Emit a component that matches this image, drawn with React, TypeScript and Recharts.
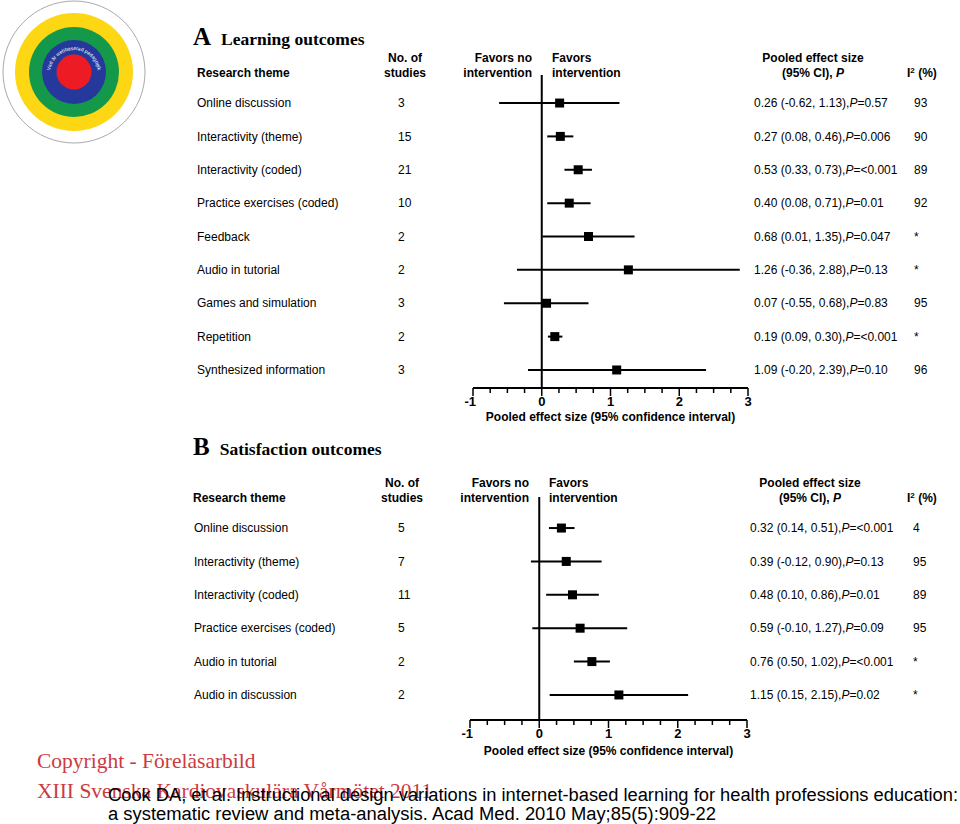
import React from 'react';
import { ScatterChart, Scatter, XAxis, YAxis, ErrorBar, ReferenceLine } from 'recharts';

// Panel A: learning outcomes
const learningThemes = [
  'Online discussion',
  'Interactivity (theme)',
  'Interactivity (coded)',
  'Practice exercises (coded)',
  'Feedback',
  'Audio in tutorial',
  'Games and simulation',
  'Repetition',
  'Synthesized information',
];
const learningStudies = [3, 15, 21, 10, 2, 2, 3, 2, 3];
const learningEffect = [0.26, 0.27, 0.53, 0.4, 0.68, 1.26, 0.07, 0.19, 1.09];
const learningLow = [-0.62, 0.08, 0.33, 0.08, 0.01, -0.36, -0.55, 0.09, -0.2];
const learningHigh = [1.13, 0.46, 0.73, 0.71, 1.35, 2.88, 0.68, 0.3, 2.39];
const learningP = ['0.57', '0.006', '<0.001', '0.01', '0.047', '0.13', '0.83', '<0.001', '0.10'];
const learningI2 = ['93', '90', '89', '92', '*', '*', '95', '*', '96'];

// Panel B: satisfaction outcomes
const satisfactionThemes = [
  'Online discussion',
  'Interactivity (theme)',
  'Interactivity (coded)',
  'Practice exercises (coded)',
  'Audio in tutorial',
  'Audio in discussion',
];
const satisfactionStudies = [5, 7, 11, 5, 2, 2];
const satisfactionEffect = [0.32, 0.39, 0.48, 0.59, 0.76, 1.15];
const satisfactionLow = [0.14, -0.12, 0.1, -0.1, 0.5, 0.15];
const satisfactionHigh = [0.51, 0.9, 0.86, 1.27, 1.02, 2.15];
const satisfactionP = ['<0.001', '0.13', '0.01', '0.09', '<0.001', '0.02'];
const satisfactionI2 = ['4', '95', '89', '95', '*', '*'];

// x axis ticks (minor every 0.25, labels on integers)
const effectTicks = [-1, -0.75, -0.5, -0.25, 0, 0.25, 0.5, 0.75, 1, 1.25, 1.5, 1.75, 2, 2.25, 2.5, 2.75, 3];

const SANS = '"Liberation Sans", Arial, sans-serif';
const SERIF = '"Liberation Serif", "Times New Roman", serif';

function buildRows(themes, studies, est, lo, hi, p, i2) {
  return themes.map((theme, i) => ({
    row: i,
    theme,
    studies: studies[i],
    est: est[i],
    low: lo[i],
    high: hi[i],
    err: [est[i] - lo[i], hi[i] - est[i]],
    p: p[i],
    i2: i2[i],
  }));
}

const learningRows = buildRows(learningThemes, learningStudies, learningEffect, learningLow, learningHigh, learningP, learningI2);
const satisfactionRows = buildRows(satisfactionThemes, satisfactionStudies, satisfactionEffect, satisfactionLow, satisfactionHigh, satisfactionP, satisfactionI2);

const fmt = (n: number) => n.toFixed(2);

const SquareMark = (props: any) => {
  const { cx, cy } = props;
  if (cx == null || cy == null) return null;
  return <rect x={cx - 4.5} y={cy - 4.5} width={9} height={9} fill="#000" />;
};

const EffectTick = (props: any) => {
  const { x, y, payload } = props;
  const v = payload.value;
  const major = Number.isInteger(v);
  return (
    <g>
      <line x1={x} x2={x} y1={y} y2={y + (major ? 8 : 5)} stroke="#000" strokeWidth={1.5} />
      {major && (
        <text x={v < 0 ? x + 3 : x} y={y + 18} textAnchor={v < 0 ? 'end' : 'middle'} fontFamily={SANS} fontSize={13} fontWeight="bold" fill="#000">
          {v}
        </text>
      )}
    </g>
  );
};

function ForestPanel({ rows, height, margin, axisWidth, domain, cols, labelOffset, axisHeight }) {
  const RowTick = (props: any) => {
    const { y, payload } = props;
    const r = rows[payload.value];
    if (!r) return null;
    return (
      <g fontFamily={SANS} fontSize={12} fill="#000">
        <text x={cols.theme} y={y} dy="0.35em">{r.theme}</text>
        <text x={cols.studies} y={y} dy="0.35em">{r.studies}</text>
        <text x={cols.effect} y={y} dy="0.35em">
          {`${fmt(r.est)} (${fmt(r.low)}, ${fmt(r.high)}),`}
          <tspan fontStyle="italic">P</tspan>
          {`=${r.p}`}
        </text>
        <text x={cols.i2} y={y} dy="0.35em">{r.i2}</text>
      </g>
    );
  };

  return (
    <ScatterChart width={960} height={height} margin={margin}>
      <XAxis
        type="number"
        dataKey="est"
        domain={[-1, 3]}
        ticks={effectTicks}
        interval={0}
        height={axisHeight}
        tickSize={0}
        tickMargin={0}
        tickLine={false}
        tick={<EffectTick />}
        axisLine={{ stroke: '#000', strokeWidth: 2 }}
        label={{
          value: 'Pooled effect size (95% confidence interval)',
          position: 'insideBottom',
          offset: labelOffset,
          style: { fontFamily: SANS, fontSize: 12, fontWeight: 'bold', fill: '#000' },
        }}
      />
      <YAxis
        type="number"
        dataKey="row"
        reversed
        domain={domain}
        ticks={rows.map((r) => r.row)}
        interval={0}
        width={axisWidth}
        axisLine={false}
        tickLine={false}
        tickSize={0}
        tick={<RowTick />}
      />
      <ReferenceLine x={0} stroke="#000" strokeWidth={2} />
      <Scatter data={rows} shape={<SquareMark />} isAnimationActive={false}>
        <ErrorBar dataKey="err" direction="x" width={0} stroke="#000" strokeWidth={2} isAnimationActive={false} />
      </Scatter>
    </ScatterChart>
  );
}

function Headers({ top, head, title, letter, left, studiesX, favorsX, pooledX, i2X }) {
  const base = { fontFamily: SANS, fontSize: 12, fontWeight: 'bold' as const, fill: '#000' };
  return (
    <g>
      <text x={193} y={top} fontFamily={SERIF} fontWeight="bold" fill="#000">
        <tspan fontSize={25}>{letter}</tspan>
        <tspan fontSize={17.5} dx={10}>{title}</tspan>
      </text>
      <text x={left} y={head + 15} {...base}>Research theme</text>
      <text x={studiesX} y={head} textAnchor="middle" {...base}>No. of</text>
      <text x={studiesX} y={head + 15} textAnchor="middle" {...base}>studies</text>
      <text x={favorsX - 10} y={head} textAnchor="end" {...base}>Favors no</text>
      <text x={favorsX - 10} y={head + 15} textAnchor="end" {...base}>intervention</text>
      <text x={favorsX + 10} y={head} {...base}>Favors</text>
      <text x={favorsX + 10} y={head + 15} {...base}>intervention</text>
      <text x={pooledX} y={head} textAnchor="middle" {...base}>Pooled effect size</text>
      <text x={pooledX} y={head + 15} textAnchor="middle" {...base}>
        (95% CI), <tspan fontStyle="italic">P</tspan>
      </text>
      <text x={i2X} y={head + 15} {...base}>
        I<tspan fontSize={8} dy={-4}>2</tspan>
        <tspan dy={4}> (%)</tspan>
      </text>
    </g>
  );
}

function Logo() {
  return (
    <g>
      <circle cx={74} cy={72} r={71} fill="#fff" stroke="#aaa" strokeWidth={1} />
      <circle cx={74} cy={72} r={59} fill="#fdd714" />
      <circle cx={74} cy={72} r={45} fill="#14994a" />
      <circle cx={74} cy={72} r={32} fill="#24399b" />
      <circle cx={74} cy={72} r={17.5} fill="#ed1c24" />
      <path id="logoArc" d="M 50 74 A 24 24 0 0 1 98 74" fill="none" />
      <text fontFamily={SANS} fontSize={5} fill="#fff">
        <textPath href="#logoArc" startOffset="50%" textAnchor="middle">Vad är webbaserad pedagogik</textPath>
      </text>
    </g>
  );
}

export default function App() {
  return (
    <div style={{ position: 'absolute', left: 0, top: 0, width: 960, height: 824, background: '#fff', overflow: 'hidden' }}>
      <div style={{ position: 'absolute', left: 0, top: 0 }}>
        <ForestPanel
          rows={learningRows}
          height={430}
          margin={{ top: 75, right: 212, bottom: 0, left: 0 }}
          axisWidth={473}
          axisHeight={42}
          domain={[-0.84, 8.54]}
          cols={{ theme: 197, studies: 398, effect: 754, i2: 914 }}
          labelOffset={9}
        />
      </div>
      <div style={{ position: 'absolute', left: 0, top: 430 }}>
        <ForestPanel
          rows={satisfactionRows}
          height={330}
          margin={{ top: 67, right: 213, bottom: 0, left: 0 }}
          axisWidth={470}
          axisHeight={40}
          domain={[-0.93, 5.75]}
          cols={{ theme: 194, studies: 398, effect: 750, i2: 913 }}
          labelOffset={5}
        />
      </div>
      <svg width={960} height={824} style={{ position: 'absolute', left: 0, top: 0, pointerEvents: 'none' }}>
        <Logo />
        <Headers top={45} head={62} letter="A" title="Learning outcomes" left={197} studiesX={405} favorsX={542} pooledX={813} i2X={907} />
        <Headers top={455} head={487} letter="B" title="Satisfaction outcomes" left={193} studiesX={402} favorsX={539} pooledX={810} i2X={907} />
        <g fontFamily={SERIF} fontSize={21.5} fill="#cc3a3f">
          <text x={37} y={768}>Copyright - Föreläsarbild</text>
          <text x={37} y={798}>XIII Svenska Kardiovaskulära Vårmötet 2011</text>
        </g>
        <g fontFamily={SANS} fontSize={18} fill="#000">
          <text x={108} y={801} textLength={850} lengthAdjust="spacingAndGlyphs">
            Cook DA, et al. Instructional design variations in internet-based learning for health professions education:
          </text>
          <text x={108} y={820} textLength={608} lengthAdjust="spacingAndGlyphs">
            a systematic review and meta-analysis. Acad Med. 2010 May;85(5):909-22
          </text>
        </g>
      </svg>
    </div>
  );
}
